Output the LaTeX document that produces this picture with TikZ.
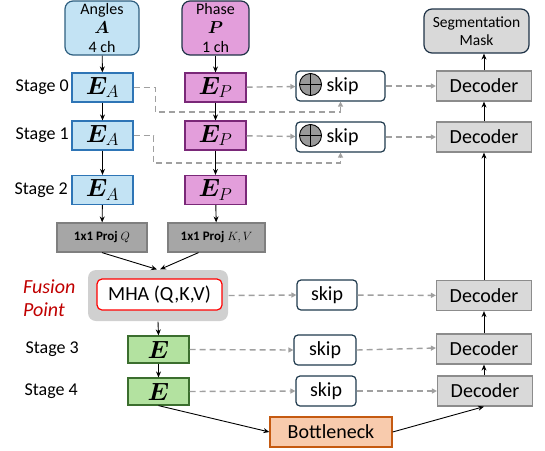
\documentclass[tikz,border=0pt]{standalone}
\usepackage{fontspec}
\setmainfont{Carlito}
\usepackage{bm}
\usetikzlibrary{arrows.meta,calc}
\definecolor{angfill}{HTML}{C3E3F4}
\definecolor{angdraw}{HTML}{2E5F80}
\definecolor{eAdraw}{HTML}{2E75B6}
\definecolor{phfill}{HTML}{E39EDB}
\definecolor{phdraw}{HTML}{1F3347}
\definecolor{ePdraw}{HTML}{7A2878}
\definecolor{grfill}{HTML}{B3E2A0}
\definecolor{grdraw}{HTML}{3B6E2E}
\definecolor{prfill}{HTML}{A6A6A6}
\definecolor{prdraw}{HTML}{7F7F7F}
\definecolor{decfill}{HTML}{D9D9D9}
\definecolor{decdraw}{HTML}{8C8C8C}
\definecolor{navy}{HTML}{1F3A4D}
\definecolor{btfill}{HTML}{F8CBAD}
\definecolor{btdraw}{HTML}{C55A11}
\definecolor{dashgray}{HTML}{A0A0A0}
\definecolor{fusered}{HTML}{C00000}
\definecolor{fusebg}{HTML}{D0D0D0}
\begin{document}
\begin{tikzpicture}[x=1pt,y=-1pt,
  box/.style={inner sep=0pt, line width=1.2pt},
  inbox/.style={box, rounded corners=8pt, minimum width=74, minimum height=54, align=center,
     font=\fontsize{16}{17.5}\selectfont},
  encA/.style={box, draw=eAdraw, fill=angfill, minimum width=61, minimum height=29},
  encP/.style={box, draw=ePdraw, fill=phfill, minimum width=61, minimum height=29},
  encG/.style={box, draw=grdraw, fill=grfill, minimum width=61, minimum height=27},
  proj/.style={box, draw=prdraw, fill=prfill, minimum height=29, font=\fontsize{13}{15}\selectfont\bfseries},
  dec/.style={box, draw=decdraw, fill=decfill, minimum width=95, minimum height=30, font=\fontsize{20}{22}\selectfont},
  skipbox/.style={box, draw=navy, fill=white, rounded corners=4pt, minimum height=30, font=\fontsize{20}{22}\selectfont},
  stagelbl/.style={anchor=east, inner sep=0pt, font=\fontsize{18}{20}\selectfont},
  arr/.style={-{Stealth[length=6pt,width=5pt]}, line width=0.9pt, black},
  dsh/.style={-{Triangle[length=5pt,width=5pt]}, line width=1.4pt, dashgray, dash pattern=on 6pt off 4pt},
  emath/.style={font=\fontsize{23}{25}\selectfont}
]
\useasboundingbox (0,0) rectangle (545,450);

% inputs
\node[inbox, draw=angdraw, fill=angfill] (ang) at (102,28) {Angles\\[1.5pt]$\bm{A}$\\[1pt]4 ch};
\node[inbox, draw=phdraw, fill=phfill, minimum width=67] (ph) at (215.5,28) {Phase\\[1.5pt]$\bm{P}$\\[1pt]1 ch};

% encoders
\node[encA, emath] (eA0) at (102.5,87.5) {$\bm{E}_{A}$};
\node[encA, emath] (eA1) at (102.5,135.5) {$\bm{E}_{A}$};
\node[encA, emath] (eA2) at (102.5,190) {$\bm{E}_{A}$};
\node[encP, emath] (eP0) at (215.5,87.5) {$\bm{E}_{P}$};
\node[encP, emath] (eP1) at (215.5,135.5) {$\bm{E}_{P}$};
\node[encP, emath] (eP2) at (215.5,190) {$\bm{E}_{P}$};

\node[stagelbl] (s0) at (69,87.5) {Stage 0};
\node[stagelbl] (s1) at (69,135.5) {Stage 1};
\node[stagelbl] (s2) at (68,190) {Stage 2};
\node[stagelbl] (s3) at (79,349.5) {Stage 3};
\node[stagelbl] (s4) at (78,391.5) {Stage 4};

% projections
\node[proj, minimum width=90] (pq) at (102,237.5) {1x1 Proj $Q$};
\node[proj, minimum width=97] (pkv) at (216.5,237.5) {1x1 Proj $K,V$};

% fusion
\node[box, fill=fusebg, rounded corners=8pt, minimum width=140, minimum height=51] (fus) at (158,295.5) {};
\node[box, draw=red, fill=white, rounded corners=5pt, minimum width=125, minimum height=31,
      font=\fontsize{20}{22}\selectfont] (mha) at (159.5,294.5) {MHA (Q,K,V)};
\node[anchor=west, inner sep=0pt, align=left, text=fusered,
      font=\fontsize{20}{23}\selectfont\itshape] (fp) at (23,298.5) {Fusion\\Point};

\node[encG, emath] (e3) at (158.5,349.5) {$\bm{E}$};
\node[encG, emath] (e4) at (158.5,391.5) {$\bm{E}$};

\node[box, draw=btdraw, fill=btfill, minimum width=122, minimum height=30,
      font=\fontsize{20}{22}\selectfont] (bn) at (331,432) {Bottleneck};

% decoders
\node[dec] (d0) at (484,86) {Decoder};
\node[dec] (d1) at (484,137) {Decoder};
\node[dec] (df) at (484,295.5) {Decoder};
\node[dec] (d3) at (484,349) {Decoder};
\node[dec] (d4) at (485,391) {Decoder};
\node[box, draw=phdraw, fill=decfill, rounded corners=8pt, minimum width=105, minimum height=44,
      align=center, font=\fontsize{15.5}{18}\selectfont] (seg) at (476.5,31) {Segmentation\\Mask};

% skips
\node[skipbox, minimum width=89] (k0) at (340.5,86) {\hspace{4pt}skip};
\node[skipbox, minimum width=89] (k1) at (340.5,137) {\hspace{4pt}skip};
\node[skipbox, minimum width=60] (kf) at (327,295) {skip};
\node[skipbox, minimum width=62] (k3) at (325,350) {skip};
\node[skipbox, minimum width=60] (k4) at (326,391) {skip};
\foreach \k/\yy in {c0/84.5, c1/135.5} {
  \node[circle, draw=black, fill=gray!80!white, line width=0.9pt, minimum size=22, inner sep=0pt] (\k) at (310.5,\yy) {};
  \draw[line width=0.9pt] (\k.north) -- (\k.south) (\k.west) -- (\k.east);
}

% solid arrows
\draw[arr] (ang) -- (eA0);
\draw[arr] (eA0) -- (eA1);
\draw[arr] (eA1) -- (eA2);
\draw[arr] (eA2) -- (pq);
\draw[arr] (ph) -- (eP0);
\draw[arr] (eP0) -- (eP1);
\draw[arr] (eP1) -- (eP2);
\draw[arr] (eP2) -- (pkv);
\draw[arr] (pq.south) -- ([xshift=-1pt]fus.north);
\draw[arr] ([xshift=-18pt]pkv.south) -- ([xshift=2pt]fus.north);
\draw[arr] (fus.south) -- (e3.north);
\draw[arr] (e3) -- (e4);
\draw[arr] (e4.south) -- (bn.west);
\draw[arr] (bn.east) -- ([xshift=-1pt]d4.south);
\draw[arr] ([xshift=-1pt]d4.north) -- (d3.south);
\draw[arr] (d3) -- (df);
\draw[arr] (df) -- (d1);
\draw[arr] (d1) -- (d0);
\draw[arr] (d0) -- ([xshift=7.5pt]seg.south);

% dashed skips
\draw[dsh] (eP0) -- (k0);
\draw[dsh] (eP1) -- (k1);
\draw[dsh] (k0) -- (d0);
\draw[dsh] (k1) -- (d1);
\draw[dsh] (fus.east) -- (kf.west);
\draw[dsh] (kf) -- (df);
\draw[dsh] (e3.east) -- (k3.west);
\draw[dsh] (k3.east) -- ([yshift=1pt]d3.west);
\draw[dsh] (e4.east) -- (k4.west);
\draw[dsh] (k4.east) -- (d4.west);
\draw[dsh] (eA0.east) -| ($(eA0.east)+(22,24.5)$) -| (k0.south);
\draw[dsh] (eA1.east) -| ($(eA1.east)+(20,27.5)$) -| (k1.south);
\end{tikzpicture}
\end{document}
